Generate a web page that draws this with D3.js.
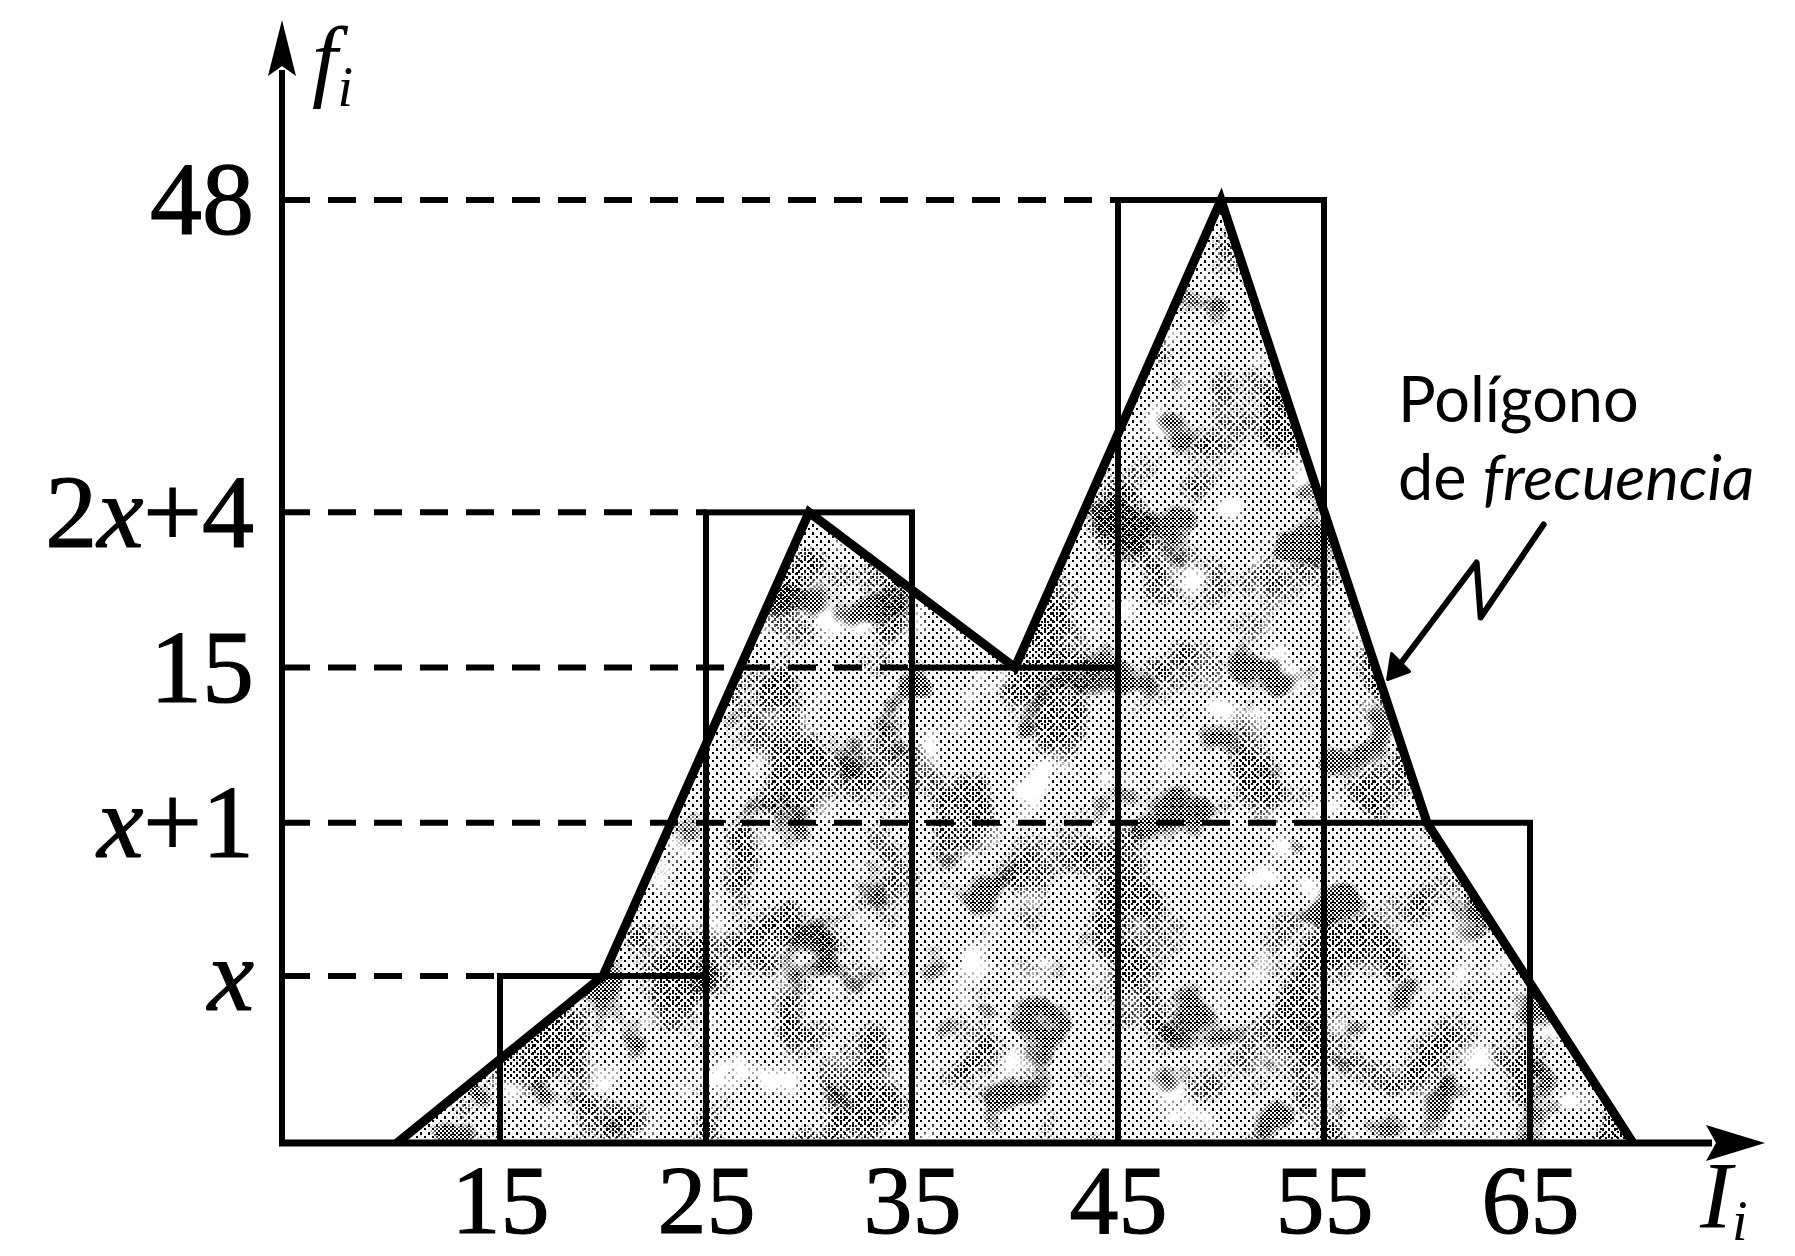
<!DOCTYPE html>
<html>
<head>
<meta charset="utf-8">
<script src="https://cdn.jsdelivr.net/npm/d3@7"></script>
<style>
  body { margin: 0; background: #fff; }
  svg { display: block; }
</style>
</head>
<body>
<div id="chart"></div>
<script>
// class intervals and the frequency label of each class
var classStarts = [15, 25, 35, 45, 55];
var classEnds = [25, 35, 45, 55, 65];
var classFreq = ['x', '2x+4', '15', '48', 'x+1'];

// levels on the f_i axis, heights as drawn (the figure is not to scale)
var levelLabels = ['x', 'x+1', '15', '2x+4', '48'];
var levelHeights = [8.5, 16.3, 24.2, 32.1, 48];

// tick labels of the I_i axis
var xTicks = [15, 25, 35, 45, 55, 65];

// frequency polygon: class marks plus an empty class at each end
var polyMarks = [10, 20, 30, 40, 50, 60, 70];
var polyFreq = ['0', 'x', '2x+4', '15', '48', 'x+1', '0'];

var W = 1795, H = 1256;
var axisX = 282;
var serif = '"Liberation Serif", serif';

function heightOf(label) {
  return label === '0' ? 0 : levelHeights[levelLabels.indexOf(label)];
}

var x = d3.scaleLinear().domain([15, 65]).range([500, 1530]);
var y = d3.scaleLinear().domain([0, 48]).range([1143, 200]);

var svg = d3.select('#chart').append('svg')
    .attr('width', W)
    .attr('height', H);

svg.append('rect').attr('width', W).attr('height', H).attr('fill', '#fff');

var defs = svg.append('defs');

// halftone-like stipple patterns
function dotPattern(id, size, dots) {
  var p = defs.append('pattern')
      .attr('id', id)
      .attr('patternUnits', 'userSpaceOnUse')
      .attr('width', size)
      .attr('height', size);
  dots.forEach(function (d) {
    p.append('rect')
      .attr('x', d[0]).attr('y', d[1])
      .attr('width', d[2]).attr('height', d[3] || d[2])
      .attr('fill', '#000')
      .attr('shape-rendering', 'crispEdges');
  });
}
dotPattern('p-light', 8, [[0, 0, 2], [4, 4, 2, 3]]);
dotPattern('p-mid', 6, [[0, 0, 2, 3], [3, 3, 2]]);
dotPattern('p-dark', 4, [[0, 0, 2], [2, 2, 2]]);

// blotchy masks so the texture is uneven like the print
function blotFilter(id, freq, seed, gain, offset) {
  var f = defs.append('filter')
      .attr('id', id)
      .attr('filterUnits', 'userSpaceOnUse')
      .attr('x', 0).attr('y', 0).attr('width', W).attr('height', H);
  f.append('feTurbulence')
    .attr('type', 'fractalNoise')
    .attr('baseFrequency', freq)
    .attr('numOctaves', 3)
    .attr('seed', seed)
    .attr('result', 'n');
  f.append('feColorMatrix')
    .attr('in', 'n')
    .attr('type', 'matrix')
    .attr('values', '0 0 0 0 0  0 0 0 0 0  0 0 0 0 0  ' + gain + ' 0 0 0 ' + offset)
    .attr('result', 'a');
  f.append('feComposite')
    .attr('in', 'SourceGraphic')
    .attr('in2', 'a')
    .attr('operator', 'in');
}
blotFilter('blot0', 0.02, 2, 6, -1.5);
blotFilter('blot1', 0.011, 4, 7, -3.6);
blotFilter('blot2', 0.014, 11, 10, -6.3);

var polyData = polyMarks.map(function (m, i) {
  return {mark: m, h: heightOf(polyFreq[i])};
});

var area = d3.area()
    .x(function (d) { return x(d.mark); })
    .y0(y(0))
    .y1(function (d) { return y(d.h); });

var line = d3.line()
    .x(function (d) { return x(d.mark); })
    .y(function (d) { return y(d.h); });

// Shaded area under the polygon
var shade = svg.append('g').attr('class', 'shade');
shade.append('path').attr('d', area(polyData)).attr('fill', 'url(#p-light)')
  .attr('filter', 'url(#blot0)');
shade.append('path').attr('d', area(polyData)).attr('fill', 'url(#p-mid)')
  .attr('filter', 'url(#blot1)');
shade.append('path').attr('d', area(polyData)).attr('fill', 'url(#p-dark)')
  .attr('filter', 'url(#blot2)');

// Dashed guide lines from the axis to each bar
svg.append('g').attr('class', 'guides')
  .selectAll('line')
  .data(levelLabels)
  .enter().append('line')
  .attr('x1', axisX)
  .attr('x2', function (d) { return x(classStarts[classFreq.indexOf(d)]); })
  .attr('y1', function (d) { return y(heightOf(d)); })
  .attr('y2', function (d) { return y(heightOf(d)); })
  .attr('stroke', '#000')
  .attr('stroke-width', 6)
  .attr('stroke-dasharray', '28,18');

// Histogram bars
svg.append('g').attr('class', 'bars')
  .selectAll('rect')
  .data(classStarts)
  .enter().append('rect')
  .attr('x', function (d) { return x(d); })
  .attr('width', function (d, i) { return x(classEnds[i]) - x(d); })
  .attr('y', function (d, i) { return y(heightOf(classFreq[i])); })
  .attr('height', function (d, i) { return y(0) - y(heightOf(classFreq[i])); })
  .attr('fill', 'none')
  .attr('stroke', '#000')
  .attr('stroke-width', 6);

// Frequency polygon
svg.append('path')
  .attr('d', line(polyData))
  .attr('fill', 'none')
  .attr('stroke', '#000')
  .attr('stroke-width', 9)
  .attr('stroke-linejoin', 'miter');

// Axes
var xAxis = d3.axisBottom(x).tickValues(xTicks).tickSize(0).tickPadding(20);
var gx = svg.append('g')
  .attr('transform', 'translate(0,' + y(0) + ')')
  .call(xAxis);
gx.select('.domain').remove();
gx.selectAll('text')
  .attr('fill', '#000')
  .attr('stroke', '#000')
  .attr('stroke-width', 1.2)
  .style('font-family', serif)
  .style('font-size', '98px');

svg.append('line')
  .attr('x1', axisX - 3).attr('x2', 1712)
  .attr('y1', y(0)).attr('y2', y(0))
  .attr('stroke', '#000').attr('stroke-width', 7);
svg.append('path')
  .attr('d', 'M1765,' + y(0) + 'L1706,' + (y(0) - 18) + 'L1716,' + y(0) +
             'L1706,' + (y(0) + 18) + 'Z')
  .attr('fill', '#000');

svg.append('line')
  .attr('x1', axisX).attr('x2', axisX)
  .attr('y1', y(0) + 3).attr('y2', 70)
  .attr('stroke', '#000').attr('stroke-width', 6);
svg.append('path')
  .attr('d', 'M' + axisX + ',20L' + (axisX - 14) + ',76L' + axisX + ',66L' +
             (axisX + 14) + ',76Z')
  .attr('fill', '#000');

// Level labels on the f_i axis (x in italics)
var ylab = svg.append('g')
  .selectAll('text')
  .data(levelLabels)
  .enter().append('text')
  .attr('x', 254)
  .attr('y', function (d) { return y(heightOf(d)); })
  .attr('dy', '0.33em')
  .attr('text-anchor', 'end')
  .attr('stroke', '#000')
  .attr('stroke-width', 1.2)
  .style('font-family', serif)
  .style('font-size', '104px');
ylab.each(function (d) {
  var t = d3.select(this);
  d.split(/(x)/).filter(function (s) { return s.length; }).forEach(function (s) {
    t.append('tspan')
      .style('font-style', s === 'x' ? 'italic' : 'normal')
      .text(s);
  });
});

// Axis titles
var fi = svg.append('text')
  .attr('x', 312).attr('y', 90)
  .style('font-family', serif)
  .style('font-style', 'italic')
  .style('font-size', '92px');
fi.append('tspan').text('f');
fi.append('tspan').attr('dy', 16).style('font-size', '56px').text('i');

var ii = svg.append('text')
  .attr('x', 1700).attr('y', 1228)
  .style('font-family', serif)
  .style('font-style', 'italic')
  .style('font-size', '96px');
ii.append('tspan').text('I');
ii.append('tspan').attr('dy', 12).style('font-size', '56px').text('i');

// Annotation
var note = svg.append('text')
  .style('font-family', 'Lato, sans-serif')
  .style('font-size', '63px');
note.append('tspan').attr('x', 1398).attr('y', 422).text('Polígono');
note.append('tspan').attr('x', 1398).attr('y', 500).text('de ');
note.append('tspan').style('font-style', 'italic').text('frecuencia');

var t = 0.77;
var tipX = x(50) + t * (x(60) - x(50)) + 8;
var tipY = y(48) + t * (y(heightOf('x+1')) - y(48));
svg.append('path')
  .attr('d', 'M' + (tipX + 10) + ',' + (tipY - 12) +
             'L' + (tipX + 89) + ',' + (tipY - 117) +
             'L' + (tipX + 93) + ',' + (tipY - 62) +
             'L' + (tipX + 156) + ',' + (tipY - 155))
  .attr('fill', 'none')
  .attr('stroke', '#000')
  .attr('stroke-width', 6)
  .attr('stroke-linejoin', 'round')
  .attr('stroke-linecap', 'round');
svg.append('path')
  .attr('d', 'M' + tipX + ',' + tipY +
             'L' + (tipX + 4) + ',' + (tipY - 26) +
             'L' + (tipX + 22) + ',' + (tipY - 8) + 'Z')
  .attr('fill', '#000')
  .attr('stroke', '#000')
  .attr('stroke-width', 3)
  .attr('stroke-linejoin', 'round');
</script>
</body>
</html>
